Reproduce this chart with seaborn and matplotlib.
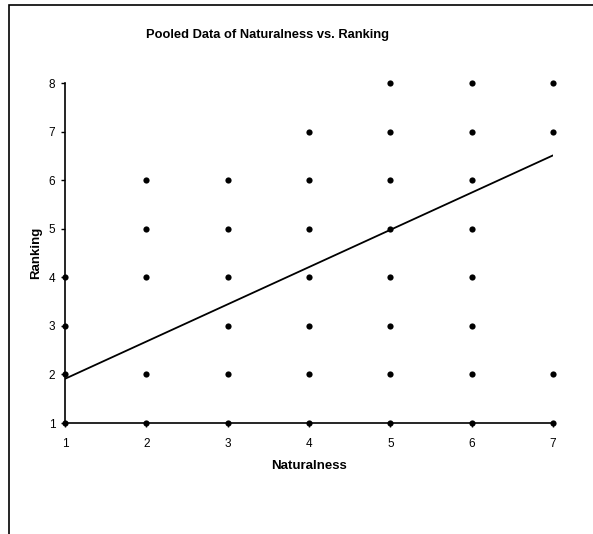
import pandas as pd
import matplotlib.pyplot as plt
import seaborn as sns
from matplotlib.patches import Rectangle

# Pooled points (Naturalness, Ranking)
naturalness = [1, 1, 1, 1,
               2, 2, 2, 2, 2,
               3, 3, 3, 3, 3, 3,
               4, 4, 4, 4, 4, 4, 4,
               5, 5, 5, 5, 5, 5, 5, 5,
               6, 6, 6, 6, 6, 6, 6, 6,
               7, 7, 7, 7]
ranking = [1, 2, 3, 4,
           1, 2, 4, 5, 6,
           1, 2, 3, 4, 5, 6,
           1, 2, 3, 4, 5, 6, 7,
           1, 2, 3, 4, 5, 6, 7, 8,
           1, 2, 3, 4, 5, 6, 7, 8,
           1, 2, 7, 8]

# Linear trend line end points
trend_x = [1, 7]
trend_y = [1.91, 6.51]

df = pd.DataFrame({"Naturalness": naturalness, "Ranking": ranking})
df_trend = pd.DataFrame({"Naturalness": trend_x, "Ranking": trend_y})

sns.set_style("ticks")
plt.rcParams["font.family"] = ["Liberation Sans", "DejaVu Sans"]
plt.rcParams["text.color"] = "black"
plt.rcParams["axes.labelcolor"] = "black"

fig = plt.figure(figsize=(5.93, 5.34), dpi=100)
ax = fig.add_axes([65/593, 1-423/534, (553-65)/593, (423-83)/534])

sns.lineplot(data=df_trend, x="Naturalness", y="Ranking", color="black", lw=1.3, ax=ax)
sns.scatterplot(data=df, x="Naturalness", y="Ranking", color="black", s=20,
                edgecolor="black", linewidth=0, ax=ax, clip_on=False, zorder=5)

ax.set_xlim(1, 7)
ax.set_ylim(1, 8)
ax.set_xticks(range(1, 8))
ax.set_yticks(range(1, 9))
ax.spines["top"].set_visible(False)
ax.spines["right"].set_visible(False)
for s in ["left", "bottom"]:
    ax.spines[s].set_linewidth(1.2)
    ax.spines[s].set_color("black")
ax.tick_params(axis="both", direction="out", length=3, width=1, labelsize=8.5,
               colors="black", pad=4)
ax.tick_params(axis="x", pad=8)

ax.set_xlabel("Naturalness", fontsize=9.5, fontweight="bold", labelpad=7)
ax.set_ylabel("Ranking", fontsize=9.5, fontweight="bold", labelpad=5)

fig.text(268/593, 1-35/534, "Pooled Data of Naturalness vs. Ranking",
         ha="center", va="center", fontsize=9.3, fontweight="bold")

# chart area border (continues past the right/bottom edge)
fig.patches.append(Rectangle((9/593, -0.1), 1.2, 1-5/534+0.1, transform=fig.transFigure,
                             fill=False, edgecolor="black", lw=1.2))

fig.savefig("out.png", dpi=100)
